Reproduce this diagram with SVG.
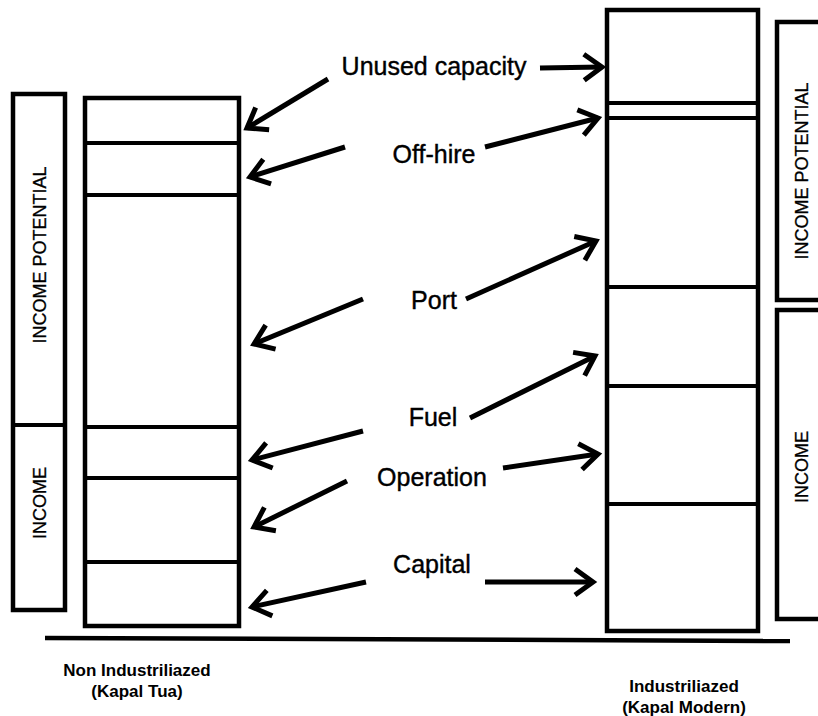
<svg xmlns="http://www.w3.org/2000/svg" width="818" height="716" viewBox="0 0 818 716">
<style>
.box{fill:#fff;stroke:#000;stroke-width:4.5}
.div{stroke:#000;stroke-width:4}
.lbl{font-family:"Liberation Sans",Arial,sans-serif;font-size:25px;fill:#000;stroke:#000;stroke-width:0.4;text-anchor:middle}
.vl{font-family:"Liberation Sans",Arial,sans-serif;font-size:18px;fill:#000;stroke:#000;stroke-width:0.3;text-anchor:middle}
.cap{font-family:"Liberation Sans",Arial,sans-serif;font-size:17px;font-weight:bold;fill:#000;text-anchor:middle}
.arr{stroke:#000;stroke-width:5;fill:none;marker-end:url(#chev)}
</style>
<defs>
<marker id="chev" markerUnits="userSpaceOnUse" viewBox="-26 -16 30 32" markerWidth="30" markerHeight="32" refX="0" refY="0" orient="auto" overflow="visible">
<path d="M -18 -13 L 0 0 L -18 13" fill="none" stroke="#000" stroke-width="5"/>
</marker>
</defs>
<rect width="818" height="716" fill="#fff"/>
<g id="left-income-bar">
<rect class="box" x="13" y="94" width="52" height="516"/>
<line class="div" x1="13" y1="425" x2="65" y2="425"/>
<text class="vl" transform="translate(46,255) rotate(-90)">INCOME POTENTIAL</text>
<text class="vl" transform="translate(46,503) rotate(-90)">INCOME</text>
</g>
<g id="left-column">
<rect class="box" x="85" y="98" width="154" height="528"/>
<line class="div" x1="85" y1="143" x2="239" y2="143"/>
<line class="div" x1="85" y1="195" x2="239" y2="195"/>
<line class="div" x1="85" y1="427" x2="239" y2="427"/>
<line class="div" x1="85" y1="478" x2="239" y2="478"/>
<line class="div" x1="85" y1="562" x2="239" y2="562"/>
</g>
<g id="right-column">
<rect class="box" x="607" y="10" width="151" height="621"/>
<line class="div" x1="607" y1="103" x2="758" y2="103"/>
<line class="div" x1="607" y1="118" x2="758" y2="118"/>
<line class="div" x1="607" y1="287" x2="758" y2="287"/>
<line class="div" x1="607" y1="386" x2="758" y2="386"/>
<line class="div" x1="607" y1="504" x2="758" y2="504"/>
</g>
<g id="right-income-potential">
<rect class="box" x="777" y="22" width="60" height="278"/>
<text class="vl" transform="translate(808,171) rotate(-90)">INCOME POTENTIAL</text>
</g>
<g id="right-income">
<rect class="box" x="777" y="310" width="60" height="309"/>
<text class="vl" transform="translate(808,467) rotate(-90)">INCOME</text>
</g>
<g id="ground">
<line x1="45" y1="638" x2="790" y2="641" stroke="#000" stroke-width="4.5"/>
</g>
<g id="connectors">
<line class="arr" x1="328" y1="79" x2="247" y2="128"/>
<line class="arr" x1="540" y1="68" x2="602" y2="67"/>
<line class="arr" x1="345" y1="147" x2="250" y2="177"/>
<line class="arr" x1="485" y1="147" x2="598" y2="118"/>
<line class="arr" x1="363" y1="299" x2="254" y2="344"/>
<line class="arr" x1="466" y1="299" x2="596" y2="241"/>
<line class="arr" x1="363" y1="431" x2="252" y2="460"/>
<line class="arr" x1="470" y1="418" x2="595" y2="356"/>
<line class="arr" x1="347" y1="481" x2="254" y2="527"/>
<line class="arr" x1="503" y1="468" x2="598" y2="454"/>
<line class="arr" x1="366" y1="582" x2="252" y2="607"/>
<line class="arr" x1="485" y1="582" x2="593" y2="582"/>
</g>
<g id="labels">
<text class="lbl" x="434" y="75">Unused capacity</text>
<text class="lbl" x="434" y="163">Off-hire</text>
<text class="lbl" x="434" y="309">Port</text>
<text class="lbl" x="433" y="426">Fuel</text>
<text class="lbl" x="432" y="486">Operation</text>
<text class="lbl" x="432" y="573">Capital</text>
</g>
<g id="captions">
<text class="cap" x="137" y="676">Non Industriliazed</text>
<text class="cap" x="137" y="697">(Kapal Tua)</text>
<text class="cap" x="684" y="692">Industriliazed</text>
<text class="cap" x="684" y="713">(Kapal Modern)</text>
</g>
</svg>
